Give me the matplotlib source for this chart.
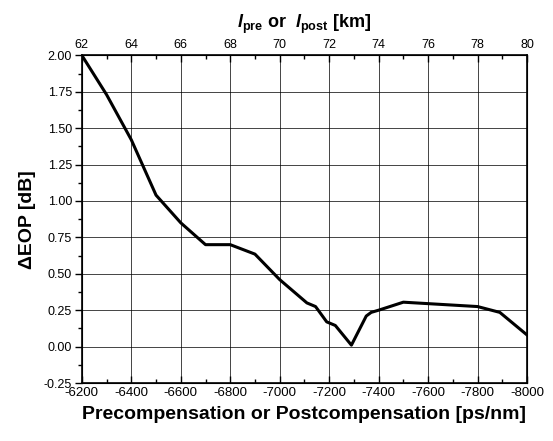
import matplotlib
matplotlib.use("Agg")
import matplotlib.pyplot as plt
from matplotlib.ticker import MultipleLocator, FormatStrFormatter

plt.rcParams['font.family'] = ['Liberation Sans', 'DejaVu Sans']
plt.rcParams['axes.unicode_minus'] = False
plt.rcParams['mathtext.fontset'] = 'custom'
plt.rcParams['mathtext.it'] = 'Liberation Sans:italic:bold'
plt.rcParams['mathtext.rm'] = 'Liberation Sans:bold'

# dispersion compensation [ps/nm] and eye-opening penalty [dB]
comp = [-6200, -6300, -6400, -6500, -6600, -6700, -6800, -6900, -7000,
        -7110, -7145, -7190, -7225, -7290, -7350, -7370, -7400, -7500,
        -7800, -7890, -8000]
eop = [2.00, 1.73, 1.42, 1.04, 0.85, 0.70, 0.70, 0.635, 0.46,
       0.30, 0.275, 0.17, 0.145, 0.01, 0.21, 0.235, 0.25, 0.305,
       0.275, 0.235, 0.08]

km_lo, km_hi = 62, 80

fig = plt.figure(figsize=(5.53, 4.41), dpi=100)
ax = fig.add_axes([0.148, 0.1315, 0.805, 0.743])

ax.plot(comp, eop, color='black', lw=2.2)

ax.set_xlim(-6200, -8000)
ax.set_ylim(-0.25, 2.0)
ax.xaxis.set_major_locator(MultipleLocator(200))
ax.xaxis.set_minor_locator(MultipleLocator(100))
ax.yaxis.set_major_locator(MultipleLocator(0.25))
ax.yaxis.set_minor_locator(MultipleLocator(0.125))
ax.yaxis.set_major_formatter(FormatStrFormatter('%.2f'))
ax.grid(True, which='major', color='black', lw=0.6, alpha=0.85)

ax.tick_params(axis='y', which='both', direction='out', labelsize=9, width=1, pad=2)
ax.tick_params(axis='y', which='major', length=5)
ax.tick_params(axis='y', which='minor', length=3)
ax.tick_params(axis='x', which='both', direction='in', labelsize=9.5, width=1, pad=3)
ax.tick_params(axis='x', which='major', length=5)
ax.tick_params(axis='x', which='minor', length=3)
for s in ax.spines.values():
    s.set_linewidth(1.2)

ax.set_xlabel('Precompensation or Postcompensation [ps/nm]', fontsize=14,
              fontweight='bold', labelpad=5)
ax.set_ylabel('ΔEOP [dB]', fontsize=14, fontweight='bold', labelpad=6)

top = ax.twiny()
top.set_xlim(km_lo, km_hi)
top.xaxis.set_major_locator(MultipleLocator(2))
top.xaxis.set_minor_locator(MultipleLocator(1))
top.tick_params(axis='x', which='both', direction='in', labelsize=9, width=1, pad=3)
top.tick_params(axis='x', which='major', length=5)
top.tick_params(axis='x', which='minor', length=3)
top.set_xlabel(r'$l_{\mathrm{pre}}$ or  $l_{\mathrm{post}}$ [km]', fontsize=13,
               fontweight='bold', labelpad=8)

fig.savefig('out.png', dpi=100)
